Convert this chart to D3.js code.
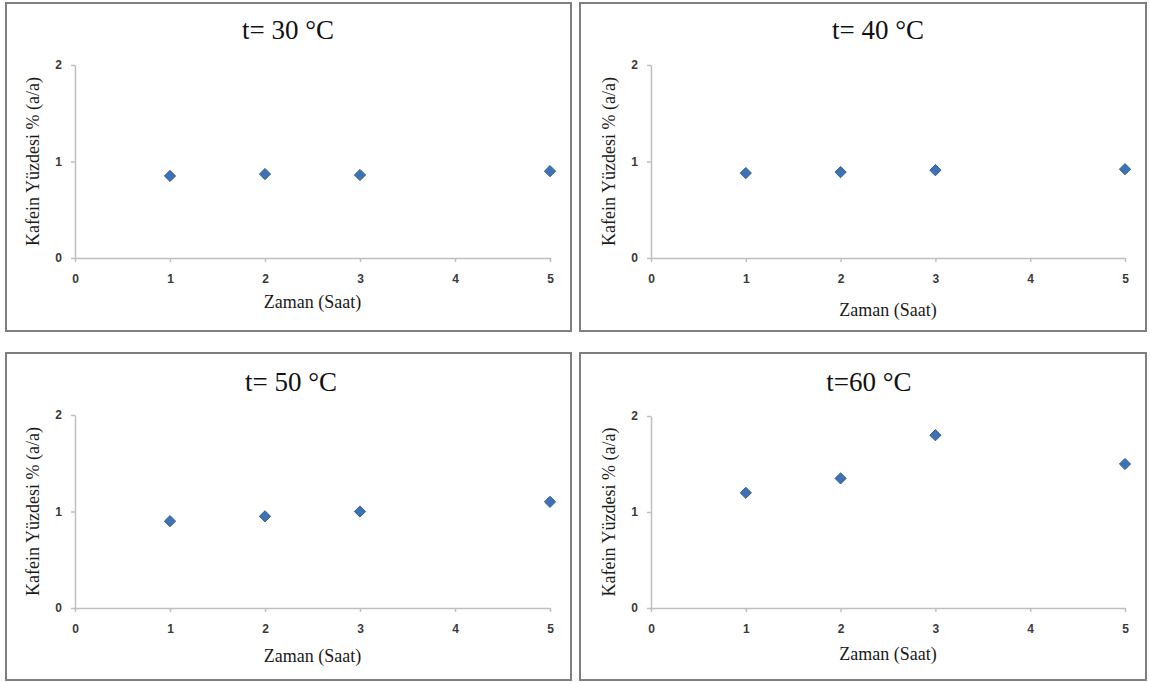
<!DOCTYPE html>
<html>
<head>
<meta charset="utf-8">
<script src="https://cdn.jsdelivr.net/npm/d3@7"></script>
<style>
  html, body { margin: 0; padding: 0; background: #fff; }
  svg { display: block; }
  .tick text { font-family: "Liberation Sans", Arial, sans-serif; font-weight: bold; font-size: 12px; fill: #3a3a3a; }
  .tick line, .domain { stroke: #bfbfbf; stroke-width: 1.5px; }
  .serif { font-family: "Liberation Serif", "Times New Roman", serif; }
</style>
</head>
<body>
<svg id="chart" width="1150" height="682"></svg>
<script>
// Kafein yüzdesi (% a/a) ölçümleri, ekstraksiyon süresine göre (saat)
const hours = [1, 2, 3, 5];
const titles = ["t= 30 °C", "t= 40 °C", "t= 50 °C", "t=60 °C"];
const kafein30 = [0.85, 0.87, 0.86, 0.90];
const kafein40 = [0.88, 0.89, 0.91, 0.92];
const kafein50 = [0.90, 0.95, 1.00, 1.10];
const kafein60 = [1.20, 1.35, 1.80, 1.50];
const xTicks = [0, 1, 2, 3, 4, 5];
const yTicks = [0, 1, 2];
const xTitle = "Zaman (Saat)";
const yTitle = "Kafein Yüzdesi % (a/a)";

const series = [kafein30, kafein40, kafein50, kafein60];

// Panel placement: frame box, plot area and text anchors
const layout = [
  { box: [6, 3, 565, 328],   plot: [75, 550, 258, 65],   title: [288, 39],  xt: 308 },
  { box: [580, 3, 566, 328], plot: [651, 1125, 258, 65], title: [878, 39],  xt: 316 },
  { box: [6, 353, 565, 327], plot: [75, 550, 608, 415],  title: [291, 391], xt: 662 },
  { box: [580, 353, 566, 327], plot: [651, 1125, 608, 416], title: [869, 391], xt: 660 }
];

const svg = d3.select("#chart");
const diamond = d3.symbol().type(d3.symbolDiamond2).size(80);

series.forEach((vals, i) => {
  const L = layout[i];
  const g = svg.append("g");

  // frame
  g.append("rect")
    .attr("x", L.box[0]).attr("y", L.box[1])
    .attr("width", L.box[2]).attr("height", L.box[3])
    .attr("fill", "#fff").attr("stroke", "#7f7f7f").attr("stroke-width", 2);

  const x = d3.scaleLinear().domain([0, 5]).range([L.plot[0], L.plot[1]]);
  const y = d3.scaleLinear().domain([0, 2]).range([L.plot[2], L.plot[3]]);

  // axes
  g.append("g")
    .attr("transform", `translate(0,${L.plot[2]})`)
    .call(d3.axisBottom(x).tickValues(xTicks).tickFormat(d3.format("d")).tickSize(4).tickPadding(12).tickSizeOuter(0));
  g.append("g")
    .attr("transform", `translate(${L.plot[0]},0)`)
    .call(d3.axisLeft(y).tickValues(yTicks).tickFormat(d3.format("d")).tickSize(4).tickPadding(9).tickSizeOuter(0));

  // title
  g.append("text")
    .attr("class", "serif")
    .attr("x", L.title[0]).attr("y", L.title[1])
    .attr("text-anchor", "middle")
    .attr("font-size", 27).attr("fill", "#111")
    .text(titles[i]);

  // axis titles
  g.append("text")
    .attr("class", "serif")
    .attr("x", (L.plot[0] + L.plot[1]) / 2).attr("y", L.xt)
    .attr("text-anchor", "middle")
    .attr("font-size", 18).attr("fill", "#1a1a1a")
    .text(xTitle);
  g.append("text")
    .attr("class", "serif")
    .attr("transform", `translate(${L.plot[0] - 36},${(L.plot[2] + L.plot[3]) / 2}) rotate(-90)`)
    .attr("text-anchor", "middle")
    .attr("font-size", 18).attr("fill", "#1a1a1a")
    .text(yTitle);

  // points
  g.selectAll("path.pt")
    .data(hours.map((h, k) => ({ h, v: vals[k] })))
    .join("path")
    .attr("class", "pt")
    .attr("d", diamond)
    .attr("transform", d => `translate(${x(d.h)},${y(d.v)})`)
    .attr("fill", "#3f72b4")
    .attr("stroke", "#335f96")
    .attr("stroke-width", 1);
});
</script>
</body>
</html>
